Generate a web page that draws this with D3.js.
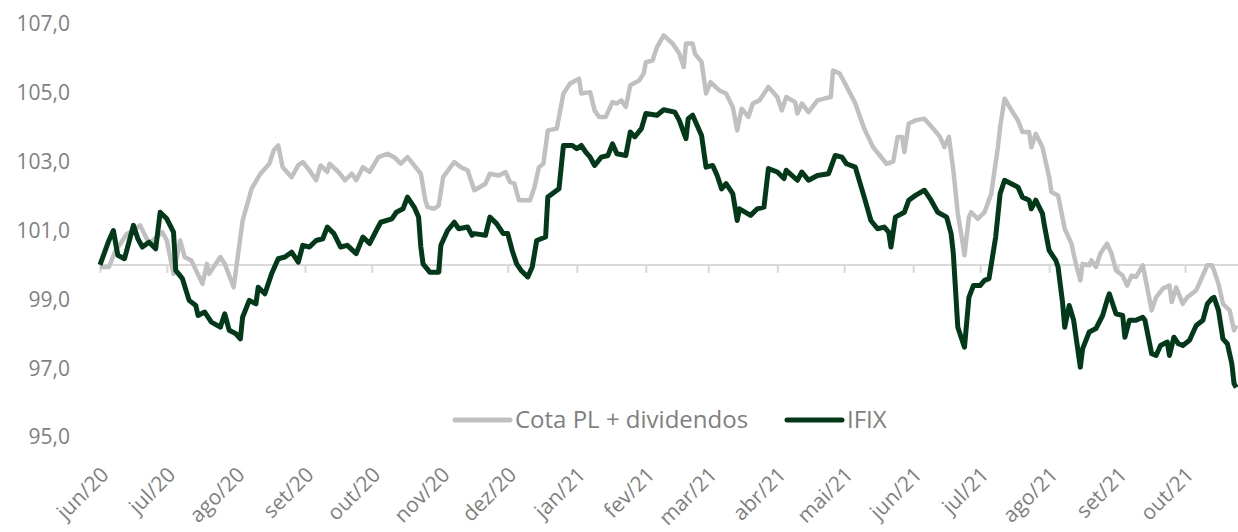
<!DOCTYPE html>
<html>
<head>
<meta charset="utf-8">
<script src="https://cdnjs.cloudflare.com/ajax/libs/d3/7.8.5/d3.min.js"></script>
<style>
  body { margin: 0; background: #fff; }
  svg { display: block; font-family: 'Open Sans', sans-serif; }
</style>
</head>
<body>
<svg id="chart"></svg>
<script>
// tick labels on the date axis (first day of each month)
const monthStarts = ['2020-06-01','2020-07-01','2020-08-01','2020-09-01','2020-10-01','2020-11-01','2020-12-01',
  '2021-01-01','2021-02-01','2021-03-01','2021-04-01','2021-05-01','2021-06-01','2021-07-01','2021-08-01','2021-09-01','2021-10-01']
const monthLabels = ['jun/20','jul/20','ago/20','set/20','out/20','nov/20','dez/20',
  'jan/21','fev/21','mar/21','abr/21','mai/21','jun/21','jul/21','ago/21','set/21','out/21']
const yTicks = [95, 97, 99, 101, 103, 105, 107]

// Cota PL + dividendos (gray)
const cota = [
  ['2020-06-01',99.94],['2020-06-05',99.94],['2020-06-08',100.42],['2020-06-10',100.6],['2020-06-13',100.9],['2020-06-16',101.0],
  ['2020-06-19',101.15],['2020-06-23',100.62],['2020-06-29',100.95],
  ['2020-07-01',100.71],['2020-07-04',99.74],['2020-07-07',100.71],['2020-07-09',100.23],['2020-07-12',100.13],['2020-07-17',99.45],
  ['2020-07-19',100.03],['2020-07-20',99.74],['2020-07-25',100.23],['2020-07-27',100.03],['2020-07-31',99.35],
  ['2020-08-04',101.29],['2020-08-07',101.97],['2020-08-08',102.21],['2020-08-12',102.65],['2020-08-16',102.94],['2020-08-18',103.33],
  ['2020-08-20',103.47],['2020-08-22',102.84],['2020-08-26',102.55],['2020-08-29',102.9],['2020-08-31',102.99],
  ['2020-09-03',102.75],['2020-09-06',102.46],['2020-09-08',102.89],['2020-09-11',102.70],['2020-09-12',102.94],['2020-09-16',102.70],
  ['2020-09-19',102.46],['2020-09-22',102.65],['2020-09-24',102.46],['2020-09-27',102.84],['2020-09-30',102.70],
  ['2020-10-04',103.13],['2020-10-08',103.23],['2020-10-11',103.13],['2020-10-14',102.94],['2020-10-17',103.13],['2020-10-20',102.89],
  ['2020-10-23',102.65],['2020-10-25',101.88],['2020-10-26',101.68],['2020-10-29',101.63],['2020-10-31',101.73],
  ['2020-11-02',102.55],['2020-11-07',102.99],['2020-11-10',102.84],['2020-11-13',102.75],['2020-11-16',102.17],['2020-11-21',102.36],
  ['2020-11-23',102.65],['2020-11-27',102.60],['2020-11-30',102.70],
  ['2020-12-02',102.41],['2020-12-04',102.36],['2020-12-06',101.88],['2020-12-11',101.88],['2020-12-13',102.26],['2020-12-15',102.84],
  ['2020-12-17',102.94],['2020-12-19',103.91],['2020-12-23',103.96],['2020-12-26',104.98],['2020-12-29',105.27],
  ['2021-01-02',105.41],['2021-01-03',104.98],['2021-01-07',105.02],['2021-01-09',104.49],['2021-01-11',104.30],['2021-01-14',104.30],
  ['2021-01-17',104.73],['2021-01-19',104.69],['2021-01-21',104.78],['2021-01-23',104.59],['2021-01-25',105.22],['2021-01-29',105.36],
  ['2021-01-31',105.56],
  ['2021-02-01',105.89],['2021-02-04',105.94],['2021-02-06',106.33],['2021-02-09',106.67],['2021-02-13',106.43],['2021-02-16',106.14],
  ['2021-02-18',105.75],['2021-02-19',106.43],['2021-02-22',106.43],['2021-02-23',106.14],['2021-02-26',105.90],['2021-02-28',104.98],
  ['2021-03-02',105.31],['2021-03-06',105.07],['2021-03-09',104.98],['2021-03-12',104.59],['2021-03-14',103.91],['2021-03-16',104.54],
  ['2021-03-19',104.30],['2021-03-21',104.69],['2021-03-24',104.78],['2021-03-28',105.17],
  ['2021-04-01',104.88],['2021-04-03',104.49],['2021-04-05',104.88],['2021-04-09',104.73],['2021-04-10',104.40],['2021-04-12',104.69],
  ['2021-04-15',104.44],['2021-04-19',104.78],['2021-04-22',104.83],['2021-04-25',104.88],['2021-04-26',105.65],['2021-04-29',105.56],
  ['2021-05-03',105.07],['2021-05-06',104.69],['2021-05-10',103.96],['2021-05-14',103.42],['2021-05-17',103.18],['2021-05-20',102.94],
  ['2021-05-23',103.0],['2021-05-25',103.72],['2021-05-27',103.72],['2021-05-28',103.28],['2021-05-30',104.11],
  ['2021-06-02',104.20],['2021-06-06',104.25],['2021-06-10',103.96],['2021-06-13',103.72],['2021-06-15',103.42],['2021-06-17',103.72],
  ['2021-06-19',102.75],['2021-06-21',101.49],['2021-06-23',100.71],['2021-06-24',100.28],['2021-06-26',101.39],['2021-06-27',101.53],
  ['2021-06-30',101.34],
  ['2021-07-03',101.53],['2021-07-06',102.07],['2021-07-09',103.42],['2021-07-10',104.01],['2021-07-12',104.83],['2021-07-16',104.40],
  ['2021-07-18',104.20],['2021-07-20',103.86],['2021-07-23',103.86],['2021-07-24',103.42],['2021-07-26',103.81],['2021-07-29',103.42],
  ['2021-08-01',102.55],['2021-08-02',102.12],['2021-08-05',102.02],['2021-08-08',101.05],['2021-08-11',100.62],['2021-08-13',100.03],
  ['2021-08-15',99.55],['2021-08-16',100.03],['2021-08-19',99.99],['2021-08-20',100.13],['2021-08-22',99.94],['2021-08-24',100.33],
  ['2021-08-27',100.62],['2021-08-29',100.33],['2021-08-31',99.84],
  ['2021-09-03',99.69],['2021-09-05',99.40],['2021-09-07',99.69],['2021-09-09',99.65],['2021-09-12',99.99],['2021-09-14',99.35],
  ['2021-09-16',98.68],['2021-09-18',99.06],['2021-09-21',99.31],['2021-09-24',99.40],['2021-09-25',98.92],['2021-09-27',99.35],
  ['2021-09-30',98.87],
  ['2021-10-02',99.06],['2021-10-06',99.26],['2021-10-08',99.55],['2021-10-11',99.99],['2021-10-13',99.99],['2021-10-14',99.84],
  ['2021-10-16',99.45],['2021-10-18',98.87],['2021-10-21',98.68],['2021-10-23',98.10],['2021-10-24',98.25]
]

// IFIX (dark green)
const ifix = [
  ['2020-06-01',100.0],['2020-06-05',100.71],['2020-06-07',101.0],['2020-06-09',100.28],['2020-06-12',100.18],['2020-06-16',101.15],
  ['2020-06-18',100.76],['2020-06-20',100.52],['2020-06-23',100.66],['2020-06-26',100.47],['2020-06-28',101.53],
  ['2020-07-01',101.34],['2020-07-04',100.95],['2020-07-05',99.84],['2020-07-08',99.6],['2020-07-11',98.97],['2020-07-14',98.82],
  ['2020-07-15',98.53],['2020-07-18',98.63],['2020-07-21',98.34],['2020-07-25',98.19],['2020-07-27',98.58],['2020-07-29',98.10],
  ['2020-08-01',98.0],['2020-08-03',97.85],['2020-08-04',98.48],['2020-08-07',98.97],['2020-08-10',98.87],['2020-08-11',99.35],
  ['2020-08-14',99.16],['2020-08-17',99.74],['2020-08-20',100.18],['2020-08-23',100.23],['2020-08-26',100.37],['2020-08-29',100.08],
  ['2020-08-31',100.57],
  ['2020-09-03',100.52],['2020-09-06',100.71],['2020-09-09',100.76],['2020-09-11',101.10],['2020-09-14',100.91],['2020-09-17',100.52],
  ['2020-09-20',100.57],['2020-09-24',100.33],['2020-09-27',100.81],['2020-09-30',100.62],
  ['2020-10-03',101.0],['2020-10-05',101.24],['2020-10-10',101.34],['2020-10-12',101.53],['2020-10-15',101.63],['2020-10-17',101.97],
  ['2020-10-20',101.68],['2020-10-22',101.39],['2020-10-23',100.52],['2020-10-24',100.03],['2020-10-27',99.79],['2020-10-31',99.79],
  ['2020-11-01',100.57],['2020-11-04',101.0],['2020-11-07',101.24],['2020-11-09',101.05],['2020-11-13',101.10],['2020-11-15',100.86],
  ['2020-11-16',100.91],['2020-11-21',100.86],['2020-11-23',101.39],['2020-11-26',101.20],['2020-11-29',100.91],
  ['2020-12-01',100.91],['2020-12-03',100.42],['2020-12-05',100.03],['2020-12-07',99.84],['2020-12-10',99.65],['2020-12-12',99.94],
  ['2020-12-14',100.71],['2020-12-18',100.81],['2020-12-19',101.97],['2020-12-24',102.21],['2020-12-26',103.47],['2020-12-30',103.47],
  ['2021-01-01',103.38],['2021-01-03',103.47],['2021-01-05',103.28],['2021-01-07',103.13],['2021-01-09',102.89],['2021-01-12',103.13],
  ['2021-01-15',103.18],['2021-01-17',103.52],['2021-01-19',103.23],['2021-01-23',103.18],['2021-01-25',103.86],['2021-01-27',103.72],
  ['2021-01-30',103.96],
  ['2021-02-01',104.40],['2021-02-06',104.35],['2021-02-09',104.51],['2021-02-14',104.44],['2021-02-16',104.20],['2021-02-19',103.67],
  ['2021-02-20',104.25],['2021-02-22',104.35],['2021-02-26',103.76],['2021-02-28',102.84],
  ['2021-03-03',102.89],['2021-03-05',102.60],['2021-03-07',102.21],['2021-03-09',102.36],['2021-03-12',102.07],['2021-03-14',101.29],
  ['2021-03-15',101.63],['2021-03-20',101.44],['2021-03-23',101.63],['2021-03-26',101.68],['2021-03-28',102.80],
  ['2021-04-01',102.70],['2021-04-04',102.51],['2021-04-05',102.75],['2021-04-10',102.46],['2021-04-12',102.70],['2021-04-15',102.46],
  ['2021-04-19',102.60],['2021-04-24',102.65],['2021-04-27',103.18],['2021-04-30',103.13],
  ['2021-05-02',102.94],['2021-05-06',102.84],['2021-05-10',101.97],['2021-05-13',101.29],['2021-05-16',101.05],['2021-05-19',101.10],
  ['2021-05-21',100.95],['2021-05-22',100.52],['2021-05-24',101.39],['2021-05-28',101.53],['2021-05-30',101.88],
  ['2021-06-02',102.02],['2021-06-06',102.17],['2021-06-09',101.88],['2021-06-12',101.53],['2021-06-16',101.39],['2021-06-18',100.91],
  ['2021-06-19',100.33],['2021-06-21',98.19],['2021-06-24',97.61],['2021-06-26',99.06],['2021-06-28',99.40],
  ['2021-07-01',99.40],['2021-07-03',99.55],['2021-07-05',99.60],['2021-07-08',100.81],['2021-07-10',102.07],['2021-07-12',102.46],
  ['2021-07-15',102.36],['2021-07-18',102.26],['2021-07-20',101.97],['2021-07-23',101.88],['2021-07-24',101.63],['2021-07-26',101.88],
  ['2021-07-29',101.49],['2021-07-30',101.10],
  ['2021-08-01',100.42],['2021-08-04',100.13],['2021-08-05',99.94],['2021-08-07',98.92],['2021-08-08',98.19],['2021-08-10',98.82],
  ['2021-08-12',98.39],['2021-08-15',97.03],['2021-08-16',97.56],['2021-08-19',98.05],['2021-08-22',98.15],['2021-08-25',98.53],
  ['2021-08-27',98.97],['2021-08-28',99.16],['2021-08-31',98.58],
  ['2021-09-03',98.53],['2021-09-04',97.90],['2021-09-06',98.39],['2021-09-09',98.39],['2021-09-12',98.48],['2021-09-13',98.39],
  ['2021-09-16',97.42],['2021-09-18',97.37],['2021-09-20',97.66],['2021-09-23',97.76],['2021-09-24',97.37],['2021-09-26',97.90],
  ['2021-09-28',97.71],['2021-09-30',97.66],
  ['2021-10-03',97.81],['2021-10-06',98.24],['2021-10-09',98.39],['2021-10-11',98.87],['2021-10-13',99.02],['2021-10-14',99.06],
  ['2021-10-16',98.68],['2021-10-18',97.85],['2021-10-20',97.71],['2021-10-22',97.13],['2021-10-23',96.55],['2021-10-24',96.44]
]

const width = 1238
const height = 532
const parse = d3.utcParse('%Y-%m-%d')
const fmt = d3.format('.1f')

const svg = d3.select('#chart')
  .attr('width', width)
  .attr('height', height)

const xScale = d3.scaleUtc()
  .domain([parse('2020-06-01'), parse('2021-10-24')])
  .range([100, 1236.3])
const yScale = d3.scaleLinear()
  .domain([95, 107])
  .range([437, 24])

// y labels, no axis line
svg.append('g')
  .selectAll('text')
  .data(yTicks)
  .enter()
  .append('text')
  .attr('x', 70)
  .attr('y', (d) => yScale(d))
  .attr('dy', '0.35em')
  .attr('text-anchor', 'end')
  .style('font-size', '21px')
  .style('fill', '#7f7f7f')
  .text((d) => fmt(d).replace('.', ','))

// horizontal axis crossing at 100
const xAxis = d3.axisBottom(xScale)
  .tickValues(monthStarts.map(parse))
  .tickSize(8)
  .tickFormat('')
const axisG = svg.append('g')
  .attr('transform', 'translate(0,' + yScale(100) + ')')
  .call(xAxis)
axisG.select('.domain')
  .attr('d', 'M' + xScale.range()[0] + ',0H' + width)
  .style('stroke', '#d9d9d9')
  .style('stroke-width', 2)
axisG.selectAll('.tick line')
  .style('stroke', '#d9d9d9')
  .style('stroke-width', 2)

// rotated month labels at the bottom
svg.append('g')
  .selectAll('text')
  .data(monthStarts)
  .enter()
  .append('text')
  .attr('transform', (d) => 'translate(' + (xScale(parse(d)) + 10) + ',476) rotate(-45)')
  .attr('text-anchor', 'end')
  .style('font-size', '21px')
  .style('fill', '#7f7f7f')
  .text((d, i) => monthLabels[i])

const line = d3.line()
  .x((d) => xScale(parse(d[0])))
  .y((d) => yScale(d[1]))

svg.append('path')
  .datum(cota)
  .attr('d', line)
  .style('fill', 'none')
  .style('stroke', '#c0c0c0')
  .style('stroke-width', 4.5)
  .style('stroke-linejoin', 'round')

svg.append('path')
  .datum(ifix)
  .attr('d', line)
  .style('fill', 'none')
  .style('stroke', '#023a19')
  .style('stroke-width', 5)
  .style('stroke-linejoin', 'round')

// legend
const legend = [
  { name: 'Cota PL + dividendos', color: '#c0c0c0', x: 455 },
  { name: 'IFIX', color: '#023a19', x: 787 }
]
const lg = svg.append('g')
legend.forEach((d) => {
  lg.append('line')
    .attr('x1', d.x).attr('x2', d.x + 55)
    .attr('y1', 420).attr('y2', 420)
    .style('stroke', d.color)
    .style('stroke-width', 5)
    .style('stroke-linecap', 'round')
  lg.append('text')
    .attr('x', d.x + 60)
    .attr('y', 420)
    .attr('dy', '0.35em')
    .style('font-size', '24px')
    .style('fill', '#7f7f7f')
    .text(d.name)
})
</script>
</body>
</html>
